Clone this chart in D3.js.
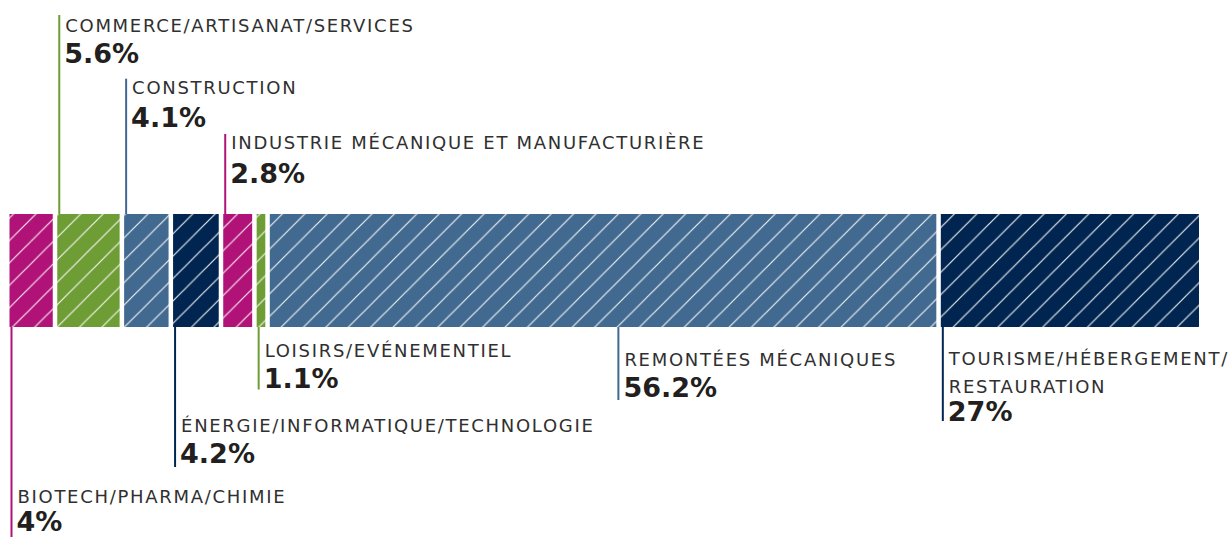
<!DOCTYPE html>
<html>
<head>
<meta charset="utf-8">
<script src="https://cdn.jsdelivr.net/npm/d3@7"></script>
<style>
  html, body { margin: 0; padding: 0; background: #ffffff; }
  svg { display: block; }
</style>
</head>
<body>
<script>
// ---- data ----
const categories = [
  "BIOTECH/PHARMA/CHIMIE",
  "COMMERCE/ARTISANAT/SERVICES",
  "CONSTRUCTION",
  "ÉNERGIE/INFORMATIQUE/TECHNOLOGIE",
  "INDUSTRIE MÉCANIQUE ET MANUFACTURIÈRE",
  "LOISIRS/EVÉNEMENTIEL",
  "REMONTÉES MÉCANIQUES",
  "TOURISME/HÉBERGEMENT/RESTAURATION"
];
const values = [4, 5.6, 4.1, 4.2, 2.8, 1.1, 56.2, 27];
const colorGroups = ["magenta", "green", "steel", "navy", "magenta", "green", "steel", "navy"];

// ---- styles / layout ----
const W = 1232, H = 537;
const palette = { magenta: "#b01277", green: "#6e9c35", steel: "#42698f", navy: "#002550" };
const barTop = 214, barH = 113, gap = 4.5;
const labelFont = "'DejaVu Sans', sans-serif";
const labelSize = 18, labelSpacing = 1.7;

// label placement for each segment (index-aligned with categories)
const labelLayout = [
  { side: "below", labelY: 503, valueY: 530.5, lineEnd: 540, anchor: 0 },
  { side: "above", labelY: 32.3, valueY: 63.3, lineTop: 15, anchor: 0 },
  { side: "above", labelY: 94.3, valueY: 126.7, lineTop: 78.7, anchor: 0 },
  { side: "below", labelY: 432, valueY: 463, lineEnd: 467, anchor: 0 },
  { side: "above", labelY: 149.3, valueY: 183.3, lineTop: 134, anchor: 0 },
  { side: "below", labelY: 357.3, valueY: 388, lineEnd: 389.5, anchor: 0 },
  { side: "below", labelY: 365.7, valueY: 396.7, lineEnd: 400, anchor: 0.52 },
  { side: "below", labelY: 365, valueY: 421, lineEnd: 421, anchor: 0, lineStep: 28 }
];

const x = d3.scaleLinear().domain([0, 100]).range([9.5, 1203.5]).clamp(true);

let cum = 0;
const segs = values.map((v, i) => {
  const s = { i, cat: categories[i], v, start: cum, end: cum + v, color: palette[colorGroups[i]], key: colorGroups[i] };
  cum += v;
  return s;
});

const svg = d3.select("body").append("svg").attr("width", W).attr("height", H);
const defs = svg.append("defs");
const P = 22.4;
Object.entries(palette).forEach(([k, c]) => {
  const p = defs.append("pattern")
    .attr("id", "hatch-" + k)
    .attr("patternUnits", "userSpaceOnUse")
    .attr("width", P).attr("height", P)
    .attr("x", 3.5).attr("y", 0);
  p.append("rect").attr("width", P).attr("height", P).attr("fill", c);
  p.append("path")
    .attr("d", `M${-P/4},${P/4} L${P/4},${-P/4} M0,${P} L${P},0 M${P*3/4},${P*5/4} L${P*5/4},${P*3/4}`)
    .attr("stroke", "#ffffff").attr("stroke-opacity", 0.9).attr("stroke-width", 1.2);
});

// bars
svg.append("g").selectAll("rect").data(segs).join("rect")
  .attr("x", d => x(d.start))
  .attr("y", barTop)
  .attr("width", d => Math.max(0, x(d.end) - x(d.start) - gap))
  .attr("height", barH)
  .attr("fill", d => `url(#hatch-${d.key})`);

// labels
const lg = svg.append("g");
function addLabel(tx, ty, str) {
  return lg.append("text")
    .attr("x", tx).attr("y", ty)
    .attr("font-family", labelFont).attr("font-size", labelSize)
    .attr("letter-spacing", labelSpacing)
    .attr("fill", "#303030")
    .text(str);
}
segs.forEach(d => {
  const L = labelLayout[d.i];
  const segW = x(d.end) - x(d.start) - gap;
  const lx = x(d.start) + 2 + L.anchor * segW;
  const y1 = L.side === "above" ? L.lineTop : barTop + barH;
  const y2 = L.side === "above" ? barTop : L.lineEnd;
  lg.append("line")
    .attr("x1", lx).attr("x2", lx).attr("y1", y1).attr("y2", y2)
    .attr("stroke", d.color).attr("stroke-width", 2);

  const tx = lx + 6;
  const t = addLabel(tx, L.labelY, d.cat);
  // wrap at a "/" if the label runs past the page edge
  if (tx + t.node().getComputedTextLength() > W - 2 && d.cat.includes("/")) {
    const parts = d.cat.split("/");
    let first = parts[0] + "/";
    let k = 1;
    while (k < parts.length - 1) {
      const trial = first + parts[k] + "/";
      t.text(trial);
      if (tx + t.node().getComputedTextLength() > W - 2) break;
      first = trial; k++;
    }
    t.text(first);
    addLabel(tx, L.labelY + (L.lineStep || 30), parts.slice(k).join("/"));
  }
  lg.append("text")
    .attr("x", tx - 1).attr("y", L.valueY)
    .attr("font-family", labelFont).attr("font-weight", "bold").attr("font-size", 27)
    .attr("fill", "#231f20")
    .text(d.v + "%");
});
</script>
</body>
</html>
